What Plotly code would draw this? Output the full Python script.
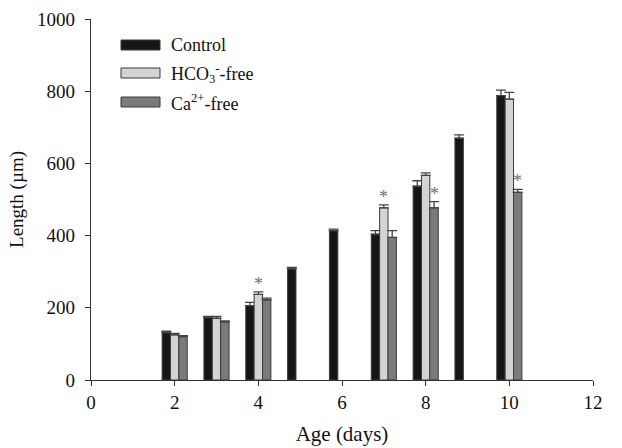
import plotly.graph_objects as go

# ---- data ----
control_days = [2, 3, 4, 5, 6, 7, 8, 9, 10]
control_vals = [131, 173, 206, 308, 414, 404, 537, 670, 788]
control_err = [4, 3, 9, 4, 4, 10, 15, 9, 15]

hco3_days = [2, 3, 4, 7, 8, 10]
hco3_vals = [125, 171, 237, 477, 567, 778]
hco3_err = [4, 5, 7, 8, 7, 19]

ca_days = [2, 3, 4, 7, 8, 10]
ca_vals = [120, 161, 222, 395, 477, 520]
ca_err = [3, 3, 5, 19, 17, 8]

# significance markers
sig_hco3_days = [4, 7]
sig_ca_days = [8, 10]

x_ticks = [0, 2, 4, 6, 8, 10, 12]
y_ticks = [0, 200, 400, 600, 800, 1000]

series_names = ["Control", "HCO<sub>3</sub><sup>-</sup>-free", "Ca<sup>2+</sup>-free"]
colors = ["#161616", "#d4d4d4", "#7b7b7b"]
offsets = [-0.2, 0.0, 0.2]
bar_w = 0.2
FONT = "Liberation Serif"

fig = go.Figure()
for days, vals, errs, col, off, name in [
    (control_days, control_vals, control_err, colors[0], offsets[0], series_names[0]),
    (hco3_days, hco3_vals, hco3_err, colors[1], offsets[1], series_names[1]),
    (ca_days, ca_vals, ca_err, colors[2], offsets[2], series_names[2]),
]:
    fig.add_trace(go.Bar(
        x=[d + off for d in days], y=vals, width=bar_w, name=name,
        marker=dict(color=col, line=dict(color="#3a3a3a", width=1)),
        error_y=dict(type="data", array=errs, arrayminus=[0] * len(errs), symmetric=False,
                     color="#444444", thickness=1.3, width=5),
        showlegend=False,
    ))

# asterisks
for d in sig_hco3_days:
    i = hco3_days.index(d)
    fig.add_annotation(x=d + offsets[1], y=hco3_vals[i] + hco3_err[i], text="*",
                       showarrow=False, yanchor="bottom", yshift=-4,
                       font=dict(family=FONT, size=18, color="#707070"))
for d in sig_ca_days:
    i = ca_days.index(d)
    fig.add_annotation(x=d + offsets[2], y=ca_vals[i] + ca_err[i], text="*",
                       showarrow=False, yanchor="bottom", yshift=-4,
                       font=dict(family=FONT, size=18, color="#707070"))

# manual legend
legend_y = [45, 73, 102]
for name, col, yp in zip(series_names, colors, legend_y):
    fig.add_shape(type="rect", xref="paper", yref="paper",
                  x0=(121 - 91) / 502, x1=(160 - 91) / 502,
                  y0=(380 - (yp + 5)) / 361, y1=(380 - (yp - 5)) / 361,
                  fillcolor=col, line=dict(color="#3a3a3a", width=1))
    fig.add_annotation(xref="paper", yref="paper", x=(169 - 91) / 502, y=(380 - yp) / 361,
                       text=name, showarrow=False, xanchor="left", yanchor="middle",
                       font=dict(family=FONT, size=18, color="#111111"))

fig.update_layout(
    width=622, height=448,
    margin=dict(l=91, r=29, t=19, b=68),
    paper_bgcolor="white", plot_bgcolor="white",
    barmode="overlay",
    font=dict(family=FONT, size=19, color="#111111"),
    xaxis=dict(range=[0, 12], tickvals=x_ticks, ticktext=[str(t) for t in x_ticks],
               showgrid=False, zeroline=False, showline=True, linecolor="#333333", linewidth=1.2,
               ticks="outside", ticklen=5, tickcolor="#333333", automargin=False,
               tickfont=dict(family=FONT, size=19),
               title=dict(text="Age (days)", standoff=14, font=dict(family=FONT, size=21))),
    yaxis=dict(range=[0, 1000], tickvals=y_ticks, ticktext=[str(t) for t in y_ticks],
               showgrid=False, zeroline=False, showline=True, linecolor="#333333", linewidth=1.2,
               ticks="outside", ticklen=5, tickcolor="#333333", ticklabelstandoff=6,
               automargin=False,
               tickfont=dict(family=FONT, size=19),
               title=dict(text="Length (µm)", standoff=8, font=dict(family=FONT, size=19))),
)

fig.write_html("out.html")
